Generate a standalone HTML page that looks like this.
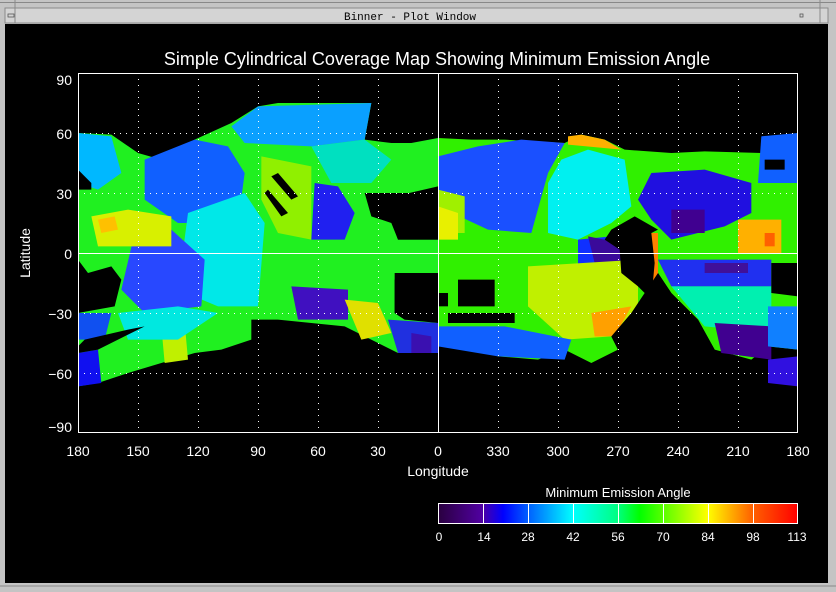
<!DOCTYPE html>
<html><head><style>
body{margin:0;background:#c8c8c8;}
</style></head><body>
<svg width="836" height="592" xmlns="http://www.w3.org/2000/svg" style="display:block;font-family:'Liberation Sans',sans-serif">
<rect x="0" y="0" width="836" height="592" fill="#c4c4c4"/>
<line x1="0" y1="2.5" x2="836" y2="2.5" stroke="#888"/>
<rect x="5" y="8" width="823" height="15" fill="#d4d4d4" stroke="#8a8a8a"/>
<line x1="15" y1="0" x2="15" y2="23" stroke="#8a8a8a"/>
<line x1="820" y1="0" x2="820" y2="23" stroke="#8a8a8a"/>
<rect x="8" y="14" width="6" height="3" fill="none" stroke="#555" stroke-width="0.8"/>
<rect x="800" y="14" width="3" height="3" fill="none" stroke="#555" stroke-width="0.8"/>
<text x="410" y="20" font-size="11" text-anchor="middle" fill="#000" font-family="'Liberation Mono',monospace">Binner - Plot Window</text>
<rect x="5" y="24" width="823" height="559" fill="#000"/>
<line x1="0" y1="586" x2="836" y2="586" stroke="#888"/>

<!-- LEFT HALF DATA -->
<g transform="translate(78,73) scale(0.33333)">
<polygon fill="#20f020" points="0,180 100,185 180,240 250,260 350,200 460,150 540,100 600,90 880,90 860,200 940,210 1000,210 1080,195 1080,340 950,370 880,430 940,450 960,500 1080,500 1080,600 1010,600 950,620 950,720 980,740 1080,750 1080,840 960,840 900,810 800,760 700,750 600,740 520,740 520,800 430,830 350,840 250,870 150,900 60,930 0,940"/>
<polygon fill="#0aa0ff" points="460,160 540,100 880,90 860,200 700,220 500,210"/>
<polygon fill="#00b8ff" points="0,180 100,190 130,300 60,350 0,330"/>
<polygon fill="#1060ff" points="200,260 350,200 450,220 500,300 480,450 300,450 200,380"/>
<polygon fill="#00e8e8" points="330,420 500,360 560,450 540,700 420,700 300,650"/>
<polygon fill="#2848ff" points="170,480 280,470 380,560 370,700 200,720 130,650"/>
<polygon fill="#90f000" points="550,250 700,280 700,500 600,480 550,380"/>
<polygon fill="#00e0c0" points="700,220 860,200 940,260 880,330 760,330"/>
<polygon fill="#2020f0" points="710,330 780,340 830,420 800,500 700,500"/>
<polygon fill="#4010c0" points="640,640 810,650 810,740 660,740"/>
<polygon fill="#2030e0" points="930,740 1080,750 1080,840 960,840"/>
<polygon fill="#3a10b0" points="1000,780 1060,790 1060,840 1000,840"/>
<polygon fill="#1010f0" points="0,840 60,830 70,930 0,940"/>
<polygon fill="#1050f0" points="0,720 100,720 80,800 0,800"/>
<polygon fill="#d8f000" points="40,430 150,410 280,430 280,520 60,520"/>
<polygon fill="#ffc000" points="60,440 110,430 120,470 70,480"/>
<polygon fill="#c0f000" points="250,760 320,750 330,860 260,870"/>
<polygon fill="#e0e000" points="800,680 900,690 940,780 850,800"/>
<polygon fill="#00e8e0" points="120,720 300,700 420,720 300,800 150,800"/>
<polygon fill="#000" points="0,290 40,330 40,350 0,350"/>
<polygon fill="#000" points="0,560 30,600 100,580 130,620 110,700 0,720"/>
<polygon fill="#000" points="20,800 150,770 200,760 60,830 0,840 0,820"/>
<polygon fill="#000" points="600,300 660,370 640,380 580,310"/>
<polygon fill="#000" points="570,350 630,420 610,430 560,360"/>
<polygon fill="#000" points="860,360 1080,360 1080,500 960,500 940,440 880,430"/>
<polygon fill="#000" points="950,600 1080,600 1080,740 980,740 950,720"/>
</g>

<!-- RIGHT HALF DATA -->
<g transform="translate(438,73) scale(0.33333)">
<polygon fill="#30f000" points="0,195 100,200 200,200 380,210 430,185 500,200 560,230 700,240 800,235 970,240 980,200 1080,180 1080,830 990,820 940,860 830,830 780,740 700,660 660,600 650,680 600,690 580,720 520,790 540,830 460,870 380,830 300,860 180,850 100,820 40,810 0,820"/>
<polygon fill="#1a50ff" points="0,250 120,220 250,200 380,210 330,300 280,480 150,470 0,400"/>
<polygon fill="#00f0f0" points="370,260 450,230 560,260 580,400 520,450 420,500 330,480 330,330"/>
<polygon fill="#a0f000" points="0,350 80,370 80,480 0,480"/>
<polygon fill="#e8f000" points="0,400 60,420 60,500 0,500"/>
<polygon fill="#ffb000" points="390,190 430,185 500,200 550,230 390,215"/>
<polygon fill="#2010e0" points="640,300 800,290 940,330 940,420 860,460 700,500 640,440 600,380"/>
<polygon fill="#400090" points="700,410 800,410 800,480 700,480"/>
<polygon fill="#1030ff" points="420,500 520,490 540,640 480,640 420,600"/>
<polygon fill="#3a0a9a" points="450,490 550,510 550,620 480,610"/>
<polygon fill="#ff8000" points="640,480 660,480 660,690 640,690"/>
<polygon fill="#ffb000" points="900,440 1030,440 1030,540 900,540"/>
<polygon fill="#ff6000" points="980,480 1010,480 1010,520 980,520"/>
<polygon fill="#2030f0" points="660,560 1000,560 1000,640 700,640"/>
<polygon fill="#40109a" points="800,570 930,570 930,600 800,600"/>
<polygon fill="#00f0b0" points="700,640 1000,640 1000,780 800,760"/>
<polygon fill="#400090" points="830,750 1000,760 1000,860 850,840"/>
<polygon fill="#1080ff" points="990,700 1080,700 1080,830 990,820"/>
<polygon fill="#3010e0" points="990,860 1080,850 1080,940 990,930"/>
<polygon fill="#c0f000" points="270,580 600,560 600,700 520,790 380,800 270,700"/>
<polygon fill="#ffa000" points="460,720 580,700 530,790 470,790"/>
<polygon fill="#1060ff" points="0,760 200,760 400,800 380,860 180,850 0,820"/>
<polygon fill="#1060ff" points="970,190 1080,180 1080,330 960,330"/>
<polygon fill="#000" points="590,430 520,470 500,500 545,530 550,600 600,640 640,680 650,570 640,480 660,470"/>
<polygon fill="#000" points="60,620 170,620 170,700 60,700"/>
<polygon fill="#000" points="0,660 30,660 30,700 0,700"/>
<polygon fill="#000" points="30,720 230,720 230,750 30,750"/>
<polygon fill="#000" points="1000,570 1080,570 1080,670 1000,660"/>
<polygon fill="#000" points="980,260 1040,260 1040,290 980,290"/>
<polygon fill="#000" points="600,690 660,600 700,660 780,740 830,830 800,900 600,900 540,830 520,790 580,720"/>
</g>

<!-- grid -->
<g stroke="#fff" stroke-width="1" stroke-dasharray="1,5">
<line x1="138.5" y1="73" x2="138.5" y2="433"/><line x1="198.5" y1="73" x2="198.5" y2="433"/><line x1="258.5" y1="73" x2="258.5" y2="433"/><line x1="318.5" y1="73" x2="318.5" y2="433"/><line x1="378.5" y1="73" x2="378.5" y2="433"/>
<line x1="498.5" y1="73" x2="498.5" y2="433"/><line x1="558.5" y1="73" x2="558.5" y2="433"/><line x1="618.5" y1="73" x2="618.5" y2="433"/><line x1="678.5" y1="73" x2="678.5" y2="433"/><line x1="738.5" y1="73" x2="738.5" y2="433"/>
<line x1="78" y1="133.5" x2="798" y2="133.5"/><line x1="78" y1="193.5" x2="798" y2="193.5"/><line x1="78" y1="313.5" x2="798" y2="313.5"/><line x1="78" y1="373.5" x2="798" y2="373.5"/>
</g>
<line x1="438.5" y1="73" x2="438.5" y2="433" stroke="#fff"/>
<line x1="78" y1="253.5" x2="798" y2="253.5" stroke="#fff"/>
<rect x="78.5" y="73.5" width="719" height="359" fill="none" stroke="#fff"/>

<g fill="#fff" font-size="14">
<text x="437" y="65" font-size="18" text-anchor="middle">Simple Cylindrical Coverage Map Showing Minimum Emission Angle</text>
<g text-anchor="end"><text x="72" y="85">90</text><text x="72" y="139">60</text><text x="72" y="199">30</text><text x="72" y="259">0</text><text x="72" y="319">−30</text><text x="72" y="379">−60</text><text x="72" y="432">−90</text></g>
<g text-anchor="middle"><text x="78" y="456">180</text><text x="138" y="456">150</text><text x="198" y="456">120</text><text x="258" y="456">90</text><text x="318" y="456">60</text><text x="378" y="456">30</text><text x="438" y="456">0</text><text x="498" y="456">330</text><text x="558" y="456">300</text><text x="618" y="456">270</text><text x="678" y="456">240</text><text x="738" y="456">210</text><text x="798" y="456">180</text>
<text x="438" y="476">Longitude</text></g>
<text transform="translate(30,253) rotate(-90)" text-anchor="middle">Latitude</text>
<text x="618" y="497" font-size="13" text-anchor="middle">Minimum Emission Angle</text>
<g font-size="12" text-anchor="middle"><text x="439" y="541">0</text><text x="484" y="541">14</text><text x="528" y="541">28</text><text x="573" y="541">42</text><text x="618" y="541">56</text><text x="663" y="541">70</text><text x="708" y="541">84</text><text x="753" y="541">98</text><text x="797" y="541">113</text></g>
</g>
<defs><linearGradient id="cb" x1="0" x2="1">
<stop offset="0" stop-color="#2a0040"/><stop offset="0.12" stop-color="#5000a0"/><stop offset="0.18" stop-color="#0000ff"/><stop offset="0.25" stop-color="#0060ff"/><stop offset="0.375" stop-color="#00ffff"/><stop offset="0.5" stop-color="#00ff80"/><stop offset="0.56" stop-color="#00ff00"/><stop offset="0.75" stop-color="#ffff00"/><stop offset="0.875" stop-color="#ff6000"/><stop offset="1" stop-color="#ff0000"/>
</linearGradient></defs>
<rect x="438.5" y="503.5" width="359" height="20" fill="url(#cb)" stroke="#fff"/>
<g stroke="#fff"><line x1="483.5" y1="503" x2="483.5" y2="523"/><line x1="528.5" y1="503" x2="528.5" y2="523"/><line x1="573.5" y1="503" x2="573.5" y2="523"/><line x1="618.5" y1="503" x2="618.5" y2="523"/><line x1="663.5" y1="503" x2="663.5" y2="523"/><line x1="708.5" y1="503" x2="708.5" y2="523"/><line x1="753.5" y1="503" x2="753.5" y2="523"/></g>
</svg>
</body></html>
